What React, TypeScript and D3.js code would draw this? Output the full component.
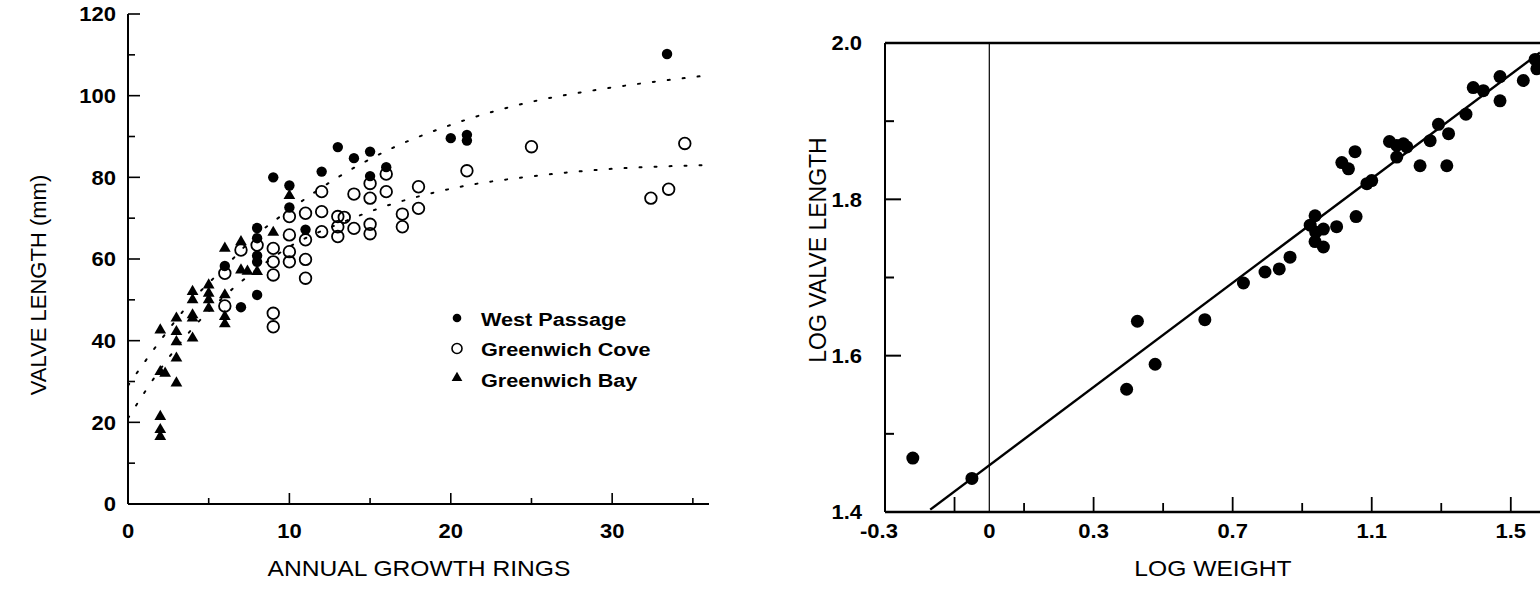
import React from "react";
import * as d3 from "d3";

// ---- left panel: valve length vs annual growth rings ----
const westPassage: [number, number][] = [
  [6, 58.3], [7, 48.2], [8, 67.6], [8, 65.1], [8, 60.8], [8, 59.3], [8, 51.2],
  [9, 80], [10, 78], [10, 72.6], [11, 67.2], [12, 81.4], [13, 87.4], [14, 84.7],
  [15, 86.3], [15, 80.3], [16, 82.5], [20, 89.6], [21, 90.4], [21, 89], [33.4, 110.2],
];

const greenwichCove: [number, number][] = [
  [6, 56.5], [6, 48.5], [7, 62.2], [8, 63.4], [9, 62.6], [9, 59.3], [9, 56.1],
  [9, 46.7], [9, 43.4], [10, 70.4], [10, 65.9], [10, 61.8], [10, 59.3], [11, 71.2],
  [11, 64.7], [11, 59.9], [11, 55.3], [12, 76.5], [12, 71.6], [12, 66.7], [13, 70.4],
  [13.4, 70.2], [13, 67.9], [13, 65.5], [14, 75.9], [14, 67.5], [15, 78.5], [15, 74.9],
  [15, 68.5], [15, 66.2], [16, 80.8], [16, 76.5], [17, 71], [17, 67.9], [18, 77.7],
  [18, 72.4], [21, 81.6], [25, 87.5], [32.4, 74.9], [33.5, 77.1], [34.5, 88.3],
];

const greenwichBay: [number, number][] = [
  [2, 42.6], [2, 32.4], [2.3, 32], [2, 21.4], [2, 18.2], [2, 16.5], [3, 45.5],
  [3, 42.2], [3, 39.7], [3, 35.7], [3, 29.6], [4, 52], [4, 50], [4, 46.3], [4, 45.5],
  [4, 40.6], [5, 53.6], [5, 51.6], [5, 50], [5, 47.9], [6, 62.6], [6, 51.2], [6, 45.9],
  [6, 44.1], [7, 64.2], [7, 57.3], [7.4, 57], [8, 56.9], [9, 66.5], [10, 75.5],
];

// dotted growth curves
const upperCurve: [number, number][] = [
  [0, 29], [2, 40], [4, 50], [6, 58], [8, 66], [10, 72], [13, 80], [16.5, 87.4],
  [19.4, 92], [25, 98.5], [29, 101.4], [33, 103.6], [36, 105],
];
const lowerCurve: [number, number][] = [
  [0, 21], [2, 33], [4, 43], [6, 51], [8, 57.5], [10, 63], [13, 68.5], [16, 73],
  [19, 76.3], [21, 78], [24.5, 80], [29, 81.8], [36, 83],
];

const legendItems = ["West Passage", "Greenwich Cove", "Greenwich Bay"];
const leftYTicks = [0, 20, 40, 60, 80, 100, 120];
const leftXTicks = [0, 10, 20, 30];

// ---- right panel: log valve length vs log weight ----
const logWeight = [
  -0.22, -0.05, 0.395, 0.426, 0.477, 0.62, 0.731, 0.793, 0.834, 0.865, 0.937, 0.923,
  0.939, 0.961, 0.937, 0.961, 0.999, 1.055, 1.086, 1.1, 1.014, 1.033, 1.052, 1.151,
  1.172, 1.191, 1.172, 1.201, 1.239, 1.268, 1.292, 1.321, 1.316, 1.371, 1.392, 1.421,
  1.469, 1.469, 1.536, 1.57, 1.575,
];
const logLength = [
  1.469, 1.443, 1.557, 1.644, 1.589, 1.646, 1.693, 1.707, 1.711, 1.726, 1.779, 1.767,
  1.758, 1.762, 1.746, 1.739, 1.765, 1.778, 1.82, 1.824, 1.847, 1.839, 1.861, 1.874,
  1.869, 1.871, 1.854, 1.867, 1.843, 1.875, 1.896, 1.884, 1.843, 1.909, 1.943, 1.939,
  1.957, 1.926, 1.952, 1.979, 1.967,
];
const fitX = [-0.17, 1.584];
const fitY = [1.403, 1.988];

const rightYLabels = ["1.4", "1.6", "1.8", "2.0"];
const rightXLabels = ["-0.3", "0", "0.3", "0.7", "1.1", "1.5"];

const FONT = "'Liberation Sans', Arial, Helvetica, sans-serif";

// the scanned figure is a little wider than tall, so horizontal text gets stretched
function SText(props: {
  x: number;
  y: number;
  size: number;
  anchor?: "start" | "middle" | "end";
  bold?: boolean;
  sx?: number;
  children: React.ReactNode;
}) {
  const { x, y, size, anchor = "start", bold = false, sx = 1.1, children } = props;
  return (
    <text
      transform={`translate(${x},${y}) scale(${sx},1)`}
      dy="0.36em"
      textAnchor={anchor}
      fontSize={size}
      fontWeight={bold ? "bold" : "normal"}
    >
      {children}
    </text>
  );
}

export default function App() {
  // left scales
  const lx = d3.scaleLinear().domain([0, 36]).range([128, 709]);
  const ly = d3.scaleLinear().domain([0, 120]).range([504, 14]);
  // right scales
  const rx = d3.scaleLinear().domain([-0.3, 1.584]).range([885, 1540]);
  const ry = d3.scaleLinear().domain([1.4, 2.0]).range([512, 43]);

  const curve = d3
    .line<[number, number]>()
    .x((d) => lx(d[0]))
    .y((d) => ly(d[1]))
    .curve(d3.curveMonotoneX);

  const tri = d3.symbol(d3.symbolTriangle, 60)();
  const legendTri = d3.symbol(d3.symbolTriangle, 50)();

  const leftMinorY = d3.range(10, 121, 10);
  const leftMinorX = d3.range(5, 36, 5);
  const rightYTicks = d3.range(1.5, 1.95, 0.1);
  const rightXTicks = d3.range(-0.1, 1.55, 0.2);

  return (
    <svg
      width={1540}
      height={605}
      style={{ position: "absolute", left: 0, top: 0, background: "#fff" }}
      fontFamily={FONT}
    >
      {/* ===== left panel ===== */}
      <line x1={lx(0)} x2={lx(0)} y1={ly(0)} y2={ly(120)} stroke="#000" strokeWidth={2} />
      <line x1={lx(0)} x2={lx(36)} y1={ly(0)} y2={ly(0)} stroke="#000" strokeWidth={2} />
      {leftMinorY.map((v) => (
        <line key={"ly" + v} x1={lx(0)} x2={lx(0) + (v % 20 === 0 ? 12 : 7)} y1={ly(v)} y2={ly(v)} stroke="#000" strokeWidth={1.6} />
      ))}
      {leftMinorX.map((v) => (
        <line key={"lx" + v} x1={lx(v)} x2={lx(v)} y1={ly(0)} y2={ly(0) - (v % 10 === 0 ? 11 : 6)} stroke="#000" strokeWidth={1.6} />
      ))}
      {leftYTicks.map((v) => (
        <SText key={"lyt" + v} x={116} y={ly(v)} size={20} anchor="end" bold>
          {v}
        </SText>
      ))}
      {leftXTicks.map((v) => (
        <SText key={"lxt" + v} x={lx(v)} y={531} size={20} anchor="middle" bold>
          {v}
        </SText>
      ))}

      <path d={curve(upperCurve) || ""} fill="none" stroke="#000" strokeWidth={2} strokeDasharray="2 13" strokeLinecap="round" />
      <path d={curve(lowerCurve) || ""} fill="none" stroke="#000" strokeWidth={2} strokeDasharray="2 13" strokeLinecap="round" />

      {greenwichCove.map((d, i) => (
        <circle key={"gc" + i} cx={lx(d[0])} cy={ly(d[1])} r={5.8} fill="none" stroke="#000" strokeWidth={1.8} />
      ))}
      {westPassage.map((d, i) => (
        <circle key={"wp" + i} cx={lx(d[0])} cy={ly(d[1])} r={5.2} fill="#000" />
      ))}
      {greenwichBay.map((d, i) => (
        <path key={"gb" + i} d={tri || ""} transform={`translate(${lx(d[0])},${ly(d[1])})`} fill="#000" />
      ))}

      {/* legend */}
      {legendItems.map((name, i) => {
        const y = 319 + i * 30.5;
        return (
          <g key={name}>
            {i === 0 && <circle cx={457} cy={y - 1} r={4.3} fill="#000" />}
            {i === 1 && <circle cx={457} cy={y - 1} r={5} fill="none" stroke="#000" strokeWidth={1.6} />}
            {i === 2 && <path d={legendTri || ""} transform={`translate(457,${y - 2})`} fill="#000" />}
            <SText x={481} y={y} size={19} bold sx={1.14}>
              {name}
            </SText>
          </g>
        );
      })}

      <text transform="translate(46,285) rotate(-90)" textAnchor="middle" fontSize={22}>
        VALVE LENGTH (mm)
      </text>
      <SText x={419} y={568} size={22} anchor="middle" sx={1.12}>
        ANNUAL GROWTH RINGS
      </SText>

      {/* ===== right panel ===== */}
      <line x1={rx(0)} x2={rx(0)} y1={ry(2.0)} y2={ry(1.4)} stroke="#000" strokeWidth={1.2} />
      <line x1={rx(-0.3)} x2={rx(-0.3)} y1={ry(2.0)} y2={ry(1.4)} stroke="#000" strokeWidth={2} />
      <line x1={rx(-0.3)} x2={1540} y1={ry(2.0)} y2={ry(2.0)} stroke="#000" strokeWidth={2.4} />
      <line x1={rx(-0.3)} x2={1540} y1={ry(1.4)} y2={ry(1.4)} stroke="#000" strokeWidth={2.4} />
      {rightYTicks.map((v, i) => (
        <line key={"ryk" + i} x1={rx(-0.3)} x2={rx(-0.3) + (i % 2 === 1 ? 16 : 9)} y1={ry(v)} y2={ry(v)} stroke="#000" strokeWidth={2} />
      ))}
      {rightXTicks.map((v, i) => (
        <line key={"rxk" + i} x1={rx(v)} x2={rx(v)} y1={ry(1.4)} y2={ry(1.4) - (i % 2 === 0 ? 15 : 9)} stroke="#000" strokeWidth={1.8} />
      ))}
      {rightYLabels.map((t) => (
        <SText key={"ryl" + t} x={862} y={ry(+t)} size={20} anchor="end" bold>
          {t}
        </SText>
      ))}
      {rightXLabels.map((t, i) => (
        <SText key={"rxl" + t} x={i === 0 ? rx(+t) - 6 : rx(+t)} y={531} size={20} anchor="middle" bold>
          {t}
        </SText>
      ))}

      <line x1={rx(fitX[0])} y1={ry(fitY[0])} x2={rx(fitX[1])} y2={ry(fitY[1])} stroke="#000" strokeWidth={2.4} />
      {logWeight.map((w, i) => (
        <circle key={"lw" + i} cx={rx(w)} cy={ry(logLength[i])} r={6.5} fill="#000" />
      ))}

      <text transform="translate(826,250) rotate(-90)" textAnchor="middle" fontSize={23}>
        LOG VALVE LENGTH
      </text>
      <SText x={1213} y={568} size={22} anchor="middle" sx={1.12}>
        LOG WEIGHT
      </SText>
    </svg>
  );
}
